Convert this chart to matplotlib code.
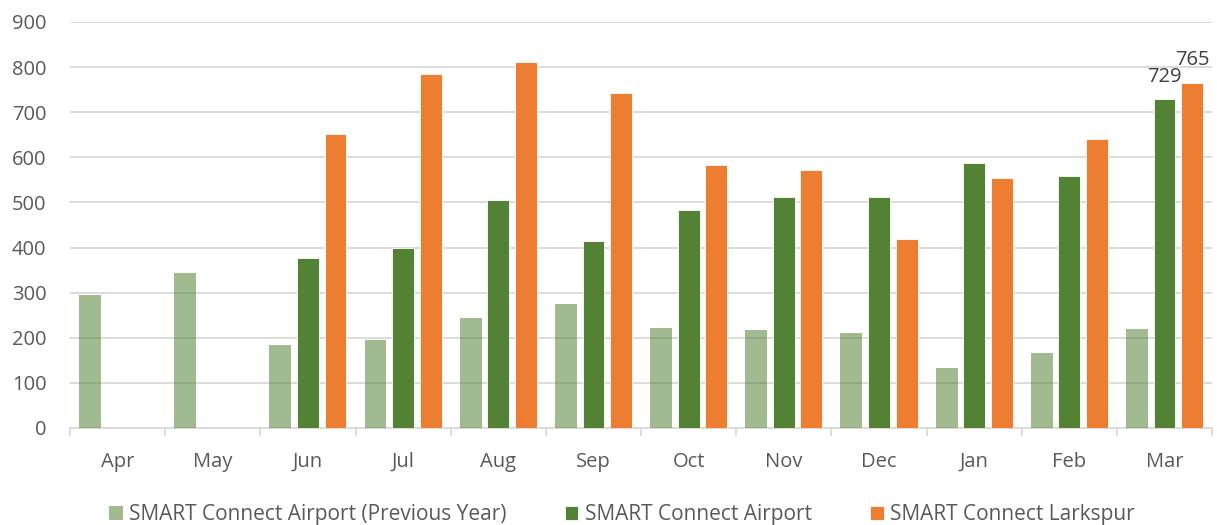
import numpy as np
import matplotlib.pyplot as plt

months = ["Apr", "May", "Jun", "Jul", "Aug", "Sep",
          "Oct", "Nov", "Dec", "Jan", "Feb", "Mar"]

airport_prev = [295, 343, 184, 195, 243, 274, 221, 217, 210, 133, 167, 219]
airport = [0, 0, 377, 400, 505, 414, 483, 512, 512, 588, 558, 729]
larkspur = [0, 0, 651, 785, 812, 742, 584, 573, 418, 554, 641, 765]

series_names = ["SMART Connect Airport (Previous Year)",
                "SMART Connect Airport",
                "SMART Connect Larkspur"]


def main():
    plt.rcParams['font.family'] = ['Open Sans', 'DejaVu Sans']

    fig = plt.figure(figsize=(12.17, 5.25), dpi=100)
    ax = fig.add_axes([0.0575, 0.1848, 0.9385, 0.7733])

    x = np.arange(len(months))
    width = 0.23
    step = 0.29

    ax.bar(x - step, airport_prev, width, color="#548235", alpha=0.55,
           label=series_names[0], zorder=3)
    ax.bar(x, airport, width, color="#548235", edgecolor="#ffffff",
           linewidth=0.6, label=series_names[1], zorder=3)
    ax.bar(x + step, larkspur, width, color="#ED7D31", edgecolor="#ffffff",
           linewidth=0.6, label=series_names[2], zorder=3)

    # data labels on the last month
    last = len(months) - 1
    for xpos, val in [(x[last], airport[last]), (x[last] + step, larkspur[last])]:
        ax.annotate(str(val), (xpos, val), xytext=(0, 9),
                    textcoords="offset points", ha="center", va="bottom",
                    fontsize=14.5, color="#404040", zorder=4)

    ax.set_xlim(-0.5, len(months) - 0.5)
    ax.set_ylim(0, 900)
    ax.set_yticks(range(0, 901, 100))
    ax.yaxis.grid(True, color="#D9D9D9", linewidth=1.3, zorder=0)
    ax.set_axisbelow(True)

    ax.set_xticks(x)
    ax.set_xticklabels(months)
    ax.set_xticks(np.arange(-0.5, len(months)), minor=True)
    ax.tick_params(axis="x", which="major", length=0, pad=17,
                   labelsize=14.5, labelcolor="#595959")
    ax.tick_params(axis="x", which="minor", length=6, width=1.3,
                   color="#D9D9D9")
    ax.tick_params(axis="y", length=0, pad=17, labelsize=14.5,
                   labelcolor="#595959")

    for side in ["top", "right", "left"]:
        ax.spines[side].set_visible(False)
    ax.spines["bottom"].set_color("#D9D9D9")
    ax.spines["bottom"].set_linewidth(1.3)

    fig.legend(loc="lower center", bbox_to_anchor=(0.511, -0.036), ncol=3,
               frameon=False, fontsize=15, labelcolor="#595959",
               handlelength=0.65, handleheight=0.65, handletextpad=0.3,
               columnspacing=2.8)

    fig.savefig("out.png", dpi=100)


if __name__ == "__main__":
    main()
